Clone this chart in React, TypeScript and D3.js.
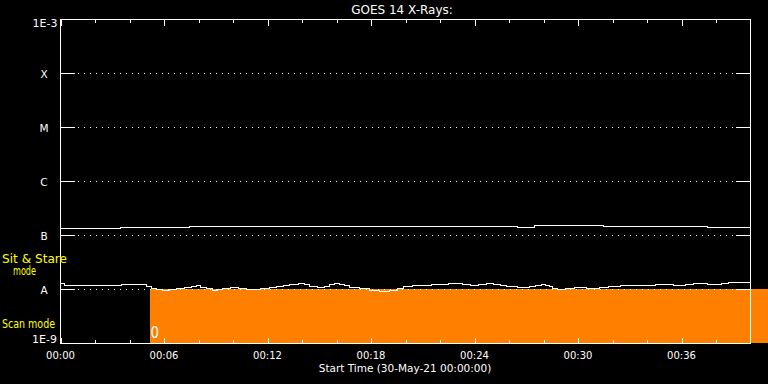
import React from "react";
import * as d3 from "d3";

// ---- data (time in minutes from 00:00, flux in W/m^2) ----
const longTimes = [0, 3.5, 7.5, 26.5, 27.5, 31.5, 37.5, 40];
const longFlux = [1.33e-7, 1.41e-7, 1.45e-7, 1.41e-7, 1.51e-7, 1.45e-7, 1.39e-7, 1.39e-7];

const shortTimes = [
  0, 0.26, 0.72, 3.51, 5.01, 5.3, 5.59, 5.83, 5.94, 6.29, 6.75, 7.16, 7.57, 7.91, 8.14,
  8.49, 8.84, 9.13, 9.42, 9.83, 10.29, 10.81, 11.57, 12.14, 12.55, 12.9, 13.3, 13.77,
  14.17, 14.46, 14.87, 15.33, 15.62, 15.91, 16.2, 16.49, 16.78, 17.36, 17.94, 18.52,
  19.1, 19.51, 19.86, 20.43, 21.48, 22.52, 23.28, 23.74, 24.26, 24.72, 25.13, 25.48,
  25.83, 26.52, 27.16, 27.51, 27.86, 28.09, 28.32, 28.55, 28.84, 29.25, 29.77, 30.52,
  31.27, 31.74, 32.49, 34.52, 35.51, 36.26, 36.72, 37.48, 38.29, 38.75, 40,
];
const shortFlux = [
  1.276e-8, 1.186e-8, 1.161e-8, 1.227e-8, 1.151e-8, 1.057e-8, 1.013e-8, 0.987e-8, 0.958e-8,
  0.987e-8, 1.03e-8, 1.103e-8, 1.151e-8, 1.186e-8, 1.103e-8, 1.03e-8, 0.958e-8, 0.987e-8,
  1.03e-8, 1.075e-8, 1.03e-8, 0.987e-8, 1.03e-8, 1.075e-8, 1.137e-8, 1.186e-8, 1.238e-8,
  1.276e-8, 1.238e-8, 1.137e-8, 1.103e-8, 1.151e-8, 1.238e-8, 1.276e-8, 1.238e-8,
  1.186e-8, 1.103e-8, 1.03e-8, 0.958e-8, 0.918e-8, 0.958e-8, 1.03e-8, 1.122e-8, 1.171e-8,
  1.227e-8, 1.276e-8, 1.227e-8, 1.171e-8, 1.238e-8, 1.291e-8, 1.238e-8, 1.171e-8,
  1.122e-8, 1.075e-8, 1.122e-8, 1.171e-8, 1.227e-8, 1.171e-8, 1.122e-8, 1.057e-8, 1.0e-8,
  1.044e-8, 1.089e-8, 1.044e-8, 1.075e-8, 1.137e-8, 1.186e-8, 1.238e-8, 1.171e-8,
  1.227e-8, 1.276e-8, 1.227e-8, 1.276e-8, 1.331e-8, 1.331e-8,
];

// scan-mode interval (minutes) and band (flux)
const scanStart = 5.19;
const scanEnd = 41.1;
const scanBand = [1e-9, 1e-8];

const xMajorTicks = [0, 6, 12, 18, 24, 30, 36];
const xMinorTicks = [2, 4, 8, 10, 14, 16, 20, 22, 26, 28, 32, 34, 38];
const xTickLabels = ["00:00", "00:06", "00:12", "00:18", "00:24", "00:30", "00:36"];

const classLevels = [1e-4, 1e-5, 1e-6, 1e-7, 1e-8];
const classLabels = ["X", "M", "C", "B", "A"];

const title = "GOES 14 X-Rays:";
const xTitle = "Start Time (30-May-21 00:00:00)";

const FONT = "'DejaVu Sans', sans-serif";

export default function App() {
  const W = 768;
  const H = 384;
  const x = d3.scaleLinear().domain([0, 40]).range([60.5, 750.5]);
  const y = d3.scaleLog().domain([1e-9, 1e-3]).range([343.5, 19.5]);

  const line = d3
    .line<[number, number]>()
    .x((d) => x(d[0]))
    .y((d) => y(d[1]))
    .curve(d3.curveStepAfter);

  const longPts = longTimes.map((t, i) => [t, longFlux[i]] as [number, number]);
  const shortPts = shortTimes.map((t, i) => [t, shortFlux[i]] as [number, number]);

  const x0 = x(0);
  const x1 = x(40);
  const yTop = y(1e-3);
  const yBot = y(1e-9);

  return (
    <svg
      width={W}
      height={H}
      style={{ position: "absolute", left: 0, top: 0, background: "#000" }}
      fontFamily={FONT}
    >
      <rect x={0} y={0} width={W} height={H} fill="#000" />
      {/* scan mode band */}
      <rect
        x={x(scanStart) - 0.5}
        y={y(scanBand[1]) - 0.5}
        width={x(scanEnd) - x(scanStart)}
        height={y(scanBand[0]) - y(scanBand[1])}
        fill="#ff8000"
        shapeRendering="crispEdges"
      />
      {/* class grid lines */}
      {classLevels.map((lv, i) => {
        const yy = y(lv);
        return (
          <g key={i} stroke="#fff" strokeWidth={1} shapeRendering="crispEdges">
            <line x1={x0} x2={74.5} y1={yy} y2={yy} />
            <line x1={78} x2={733} y1={yy} y2={yy} strokeDasharray="1 5" />
            <line x1={736} x2={x1} y1={yy} y2={yy} />
          </g>
        );
      })}
      {/* data */}
      <path d={line(longPts) || ""} fill="none" stroke="#fff" strokeWidth={1} shapeRendering="crispEdges" />
      <path d={line(shortPts) || ""} fill="none" stroke="#fff" strokeWidth={1} shapeRendering="crispEdges" />
      {/* frame */}
      <rect x={x0} y={yTop} width={x1 - x0} height={yBot - yTop} fill="none" stroke="#fff" strokeWidth={1} shapeRendering="crispEdges" />
      {/* ticks */}
      <g stroke="#fff" strokeWidth={1} shapeRendering="crispEdges">
        {xMajorTicks.map((t) => (
          <g key={"M" + t}>
            <line x1={Math.round(x(t)) + 0.5} x2={Math.round(x(t)) + 0.5} y1={yBot} y2={yBot - 6} />
            <line x1={Math.round(x(t)) + 0.5} x2={Math.round(x(t)) + 0.5} y1={yTop} y2={yTop + 6} />
          </g>
        ))}
        {xMinorTicks.map((t) => (
          <g key={"m" + t}>
            <line x1={Math.round(x(t)) + 0.5} x2={Math.round(x(t)) + 0.5} y1={yBot} y2={yBot - 3.5} />
            <line x1={Math.round(x(t)) + 0.5} x2={Math.round(x(t)) + 0.5} y1={yTop} y2={yTop + 3.5} />
          </g>
        ))}
      </g>
      {/* x tick labels */}
      {xMajorTicks.map((t, i) => (
        <text key={"l" + t} x={x(t)} y={358.5} fill="#fff" fontSize={10} textAnchor="middle">
          {xTickLabels[i]}
        </text>
      ))}
      <text x={405} y={372} fill="#fff" fontSize={10.5} textAnchor="middle">
        {xTitle}
      </text>
      <text x={402} y={14} fill="#fff" fontSize={12} textAnchor="middle">
        {title}
      </text>
      {/* y labels */}
      <text x={57.5} y={27} fill="#fff" fontSize={11} textAnchor="end">1E-3</text>
      <text x={57} y={343} fill="#fff" fontSize={11} textAnchor="end">1E-9</text>
      {classLevels.map((lv, i) => (
        <text key={"c" + i} x={44} y={y(lv) + 4.2} fill="#fff" fontSize={10.5} textAnchor="middle">
          {classLabels[i]}
        </text>
      ))}
      {/* mode labels */}
      <text x={2} y={262.5} fill="#ffff00" fontSize={11.5} textLength={65} lengthAdjust="spacingAndGlyphs">Sit &amp; Stare</text>
      <text x={13} y={275.3} fill="#ffff00" fontSize={11.5} textLength={23} lengthAdjust="spacingAndGlyphs">mode</text>
      <text x={2} y={328} fill="#ffff00" fontSize={11.5} textLength={53} lengthAdjust="spacingAndGlyphs">Scan mode</text>
      <text x={150.5} y={338.3} fill="#fff" fontSize={15.5} textLength={8.5} lengthAdjust="spacingAndGlyphs">0</text>
    </svg>
  );
}
